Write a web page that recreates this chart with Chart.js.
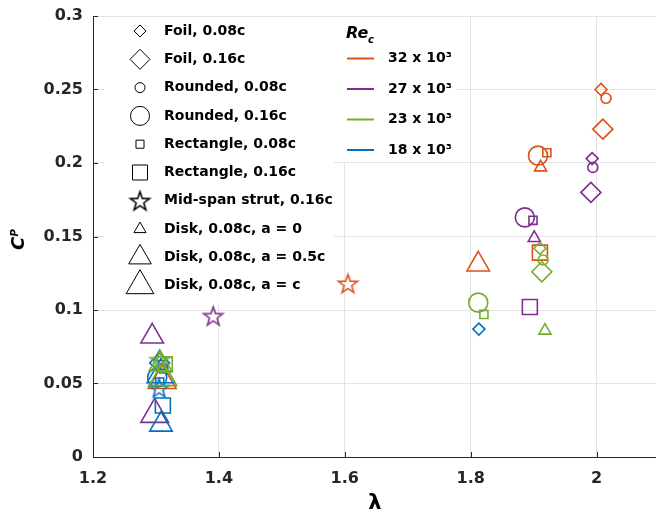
<!DOCTYPE html>
<html lang="en">
<head>
<meta charset="UTF-8">
<title>Cp vs lambda</title>
<script src="https://cdn.jsdelivr.net/npm/chart.js"></script>
<style>
  html, body { margin: 0; padding: 0; background: #fff; }
  #wrap { width: 656px; height: 521px; }
</style>
</head>
<body>
<div id="wrap"><canvas id="cpChart" width="656" height="521"></canvas></div>
<script>
// marker legend (index = config id used in the series below)
const configLabels = ['Foil, 0.08c', 'Foil, 0.16c', 'Rounded, 0.08c', 'Rounded, 0.16c',
    'Rectangle, 0.08c', 'Rectangle, 0.16c', 'Mid-span strut, 0.16c',
    'Disk, 0.08c, a = 0', 'Disk, 0.08c, a = 0.5c', 'Disk, 0.08c, a = c'];
const reLabels = ['32 x 10\u00b3', '27 x 10\u00b3', '23 x 10\u00b3', '18 x 10\u00b3'];
const xTicks = [1.2, 1.4, 1.6, 1.8, 2.0];
const yTicks = [0, 0.05, 0.1, 0.15, 0.2, 0.25, 0.3];

// Re_c = 32 x 10^3
const re32Lambda = [2.007, 2.015, 2.010, 1.907, 1.921, 1.911, 1.910, 1.812, 1.605, 1.310];
const re32Cp     = [0.250, 0.244, 0.223, 0.205, 0.207, 0.197, 0.139, 0.131, 0.118, 0.052];
const re32Config = [0, 2, 1, 3, 4, 7, 5, 8, 6, 9];

// Re_c = 27 x 10^3
const re27Lambda = [1.993, 1.994, 1.991, 1.886, 1.899, 1.901, 1.894, 1.391, 1.294, 1.298];
const re27Cp     = [0.203, 0.197, 0.180, 0.163, 0.161, 0.149, 0.102, 0.096, 0.082, 0.029];
const re27Config = [0, 2, 1, 3, 4, 7, 5, 6, 8, 9];

// Re_c = 23 x 10^3
const re23Lambda = [1.910, 1.915, 1.913, 1.918, 1.812, 1.821, 1.306, 1.314, 1.307, 1.311];
const re23Cp     = [0.142, 0.134, 0.126, 0.086, 0.105, 0.097, 0.066, 0.063, 0.063, 0.054];
const re23Config = [0, 2, 1, 7, 3, 4, 6, 5, 8, 9];

// Re_c = 18 x 10^3
const re18Lambda = [1.813, 1.306, 1.311, 1.302, 1.306, 1.311, 1.305, 1.306, 1.308, 1.308];
const re18Cp     = [0.087, 0.064, 0.0605, 0.054, 0.051, 0.035, 0.047, 0.068, 0.022, 0.056];
const re18Config = [0, 1, 2, 3, 4, 5, 6, 7, 8, 9];

const reColors = ['#D95319', '#7E2F8E', '#77AC30', '#0072BD'];
const markerStyle = ['rectRot', 'rectRot', 'circle', 'circle', 'rect', 'rect', 'star5', 'triangle', 'triangle', 'triangle'];
const markerRadius = [6, 10, 5, 9.5, 5.7, 10.6, 10, 7, 13, 16];
const lineW = 1.6;
const fontFam = '"DejaVu Sans", sans-serif';
const axisColor = '#262626';

// five-point star, chart.js only has the asterisk kind
const starCache = {};
function starFor(color) {
    if (starCache[color]) return starCache[color];
    const R = markerRadius[6];
    const s = Math.ceil(2 * R + 5);
    const c = document.createElement('canvas');
    c.width = s; c.height = s;
    const g = c.getContext('2d');
    g.translate(s / 2, s / 2 + 0.095 * R);
    g.beginPath();
    for (let i = 0; i < 10; i++) {
        const rr = i % 2 ? R * 0.4 : R;
        const a = -Math.PI / 2 + i * Math.PI / 5;
        g.lineTo(rr * Math.cos(a), rr * Math.sin(a));
    }
    g.closePath();
    g.strokeStyle = color;
    g.lineWidth = lineW;
    g.stroke();
    starCache[color] = c;
    return c;
}

function styleFor(k, color) {
    return markerStyle[k] === 'star5' ? starFor(color) : markerStyle[k];
}

const series = [
    { lambda: re32Lambda, cp: re32Cp, cfg: re32Config, order: 3 },
    { lambda: re27Lambda, cp: re27Cp, cfg: re27Config, order: 2 },
    { lambda: re23Lambda, cp: re23Cp, cfg: re23Config, order: 0 },
    { lambda: re18Lambda, cp: re18Cp, cfg: re18Config, order: 1 }
];

const datasets = series.map((s, i) => ({
    label: reLabels[i],
    order: s.order,
    data: s.lambda.map((x, j) => ({ x: x, y: s.cp[j] })),
    pointStyle: s.cfg.map(k => styleFor(k, reColors[i])),
    pointRadius: s.cfg.map(k => markerRadius[k]),
    pointBorderColor: reColors[i],
    pointBackgroundColor: 'rgba(0,0,0,0)',
    pointBorderWidth: lineW,
    showLine: false
}));

const extras = {
    id: 'extras',
    afterDatasetsDraw(chart) {
        const ctx = chart.ctx;
        ctx.save();
        // legend backgrounds hide the grid
        ctx.fillStyle = '#fff';
        ctx.fillRect(104, 17, 230, 286);
        ctx.fillRect(334, 17, 121, 145);

        // shape legend
        ctx.font = 'bold 14px ' + fontFam;
        ctx.textBaseline = 'middle';
        ctx.textAlign = 'left';
        configLabels.forEach((lab, k) => {
            const y = 31 + k * 28.3;
            ctx.strokeStyle = '#000';
            ctx.fillStyle = 'rgba(0,0,0,0)';
            Chart.helpers.drawPoint(ctx, {
                pointStyle: styleFor(k, '#000'),
                radius: markerRadius[k],
                borderWidth: lineW,
                rotation: 0
            }, 140, y);
            ctx.fillStyle = '#000';
            ctx.fillText(lab, 164, y);
        });

        // Re legend
        ctx.font = 'italic bold 16px ' + fontFam;
        ctx.textBaseline = 'alphabetic';
        ctx.fillText('Re', 346, 38);
        ctx.font = 'italic bold 10px ' + fontFam;
        ctx.fillText('c', 368, 43);
        ctx.font = 'bold 14px ' + fontFam;
        ctx.textBaseline = 'middle';
        reLabels.forEach((lab, i) => {
            const y = 58.5 + i * 30.5;
            ctx.strokeStyle = reColors[i];
            ctx.lineWidth = 2;
            ctx.beginPath();
            ctx.moveTo(347, y);
            ctx.lineTo(374, y);
            ctx.stroke();
            ctx.fillStyle = '#000';
            ctx.fillText(lab, 388, y);
        });
        ctx.restore();
    },
    afterDraw(chart) {
        const ctx = chart.ctx;
        const { chartArea, scales } = chart;
        ctx.save();
        // inward tick marks
        ctx.strokeStyle = axisColor;
        ctx.lineWidth = 1;
        ctx.beginPath();
        xTicks.forEach(v => {
            const px = Math.round(scales.x.getPixelForValue(v)) + 0.5;
            ctx.moveTo(px, chartArea.bottom);
            ctx.lineTo(px, chartArea.bottom - 5);
        });
        yTicks.forEach(v => {
            const py = Math.round(scales.y.getPixelForValue(v)) + 0.5;
            ctx.moveTo(chartArea.left, py);
            ctx.lineTo(chartArea.left + 5, py);
        });
        ctx.stroke();

        // axis titles
        ctx.fillStyle = '#000';
        ctx.font = 'bold 21px ' + fontFam;
        ctx.textAlign = 'center';
        ctx.textBaseline = 'middle';
        ctx.fillText('\u03bb', 375, 504);

        ctx.translate(24, 250);
        ctx.rotate(-Math.PI / 2);
        ctx.textAlign = 'left';
        ctx.textBaseline = 'alphabetic';
        ctx.font = 'italic bold 18px ' + fontFam;
        ctx.fillText('C', 0, 0);
        ctx.font = 'italic bold 10px ' + fontFam;
        ctx.fillText('P', 13.5, -6);
        ctx.restore();
    }
};

const tickFont = { family: fontFam, size: 16, weight: 'bold' };

new Chart(document.getElementById('cpChart'), {
    type: 'scatter',
    data: { datasets: datasets },
    options: {
        responsive: false,
        animation: false,
        devicePixelRatio: 1,
        events: [],
        layout: { autoPadding: false, padding: { top: 16, left: 0, right: 0, bottom: 0 } },
        plugins: { legend: { display: false }, tooltip: { enabled: false } },
        scales: {
            x: {
                type: 'linear',
                min: 1.2,
                max: 2.0944,
                afterBuildTicks: s => { s.ticks = xTicks.map(v => ({ value: v })); },
                afterFit: s => { s.height = 64; s.paddingLeft = 0; s.paddingRight = 0; },
                grid: { color: '#e3e3e3', drawTicks: false },
                border: { color: axisColor, width: 1 },
                ticks: { font: tickFont, color: axisColor, padding: 12, callback: v => String(v) }
            },
            y: {
                type: 'linear',
                min: 0,
                max: 0.3,
                afterBuildTicks: s => { s.ticks = yTicks.map(v => ({ value: v })); },
                afterFit: s => { s.width = 93; s.paddingTop = 0; s.paddingBottom = 0; },
                grid: { color: '#e3e3e3', drawTicks: false },
                border: { color: axisColor, width: 1 },
                ticks: { font: tickFont, color: axisColor, padding: 10, callback: v => String(v) }
            }
        }
    },
    plugins: [extras]
});
</script>
</body>
</html>
